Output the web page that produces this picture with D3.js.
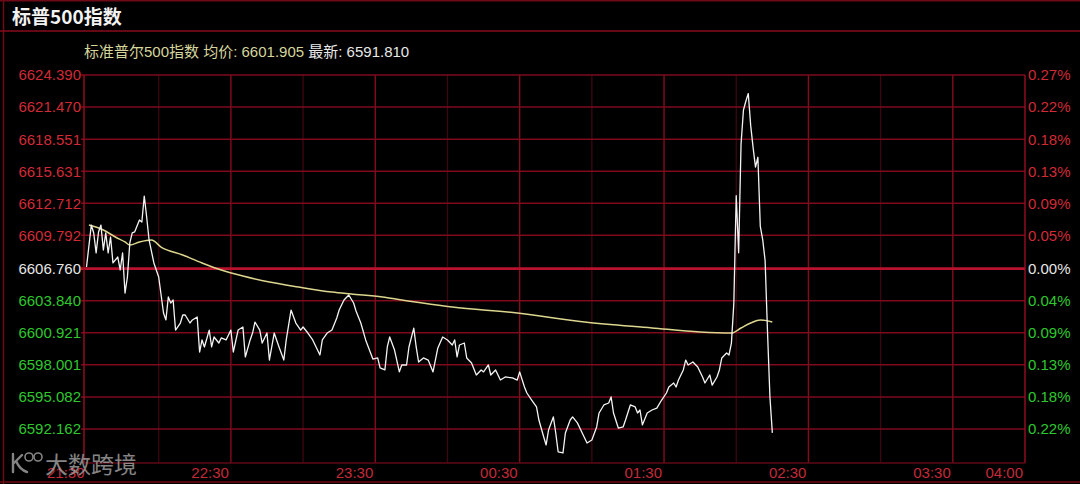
<!DOCTYPE html>
<html><head><meta charset="utf-8">
<script src="https://cdn.jsdelivr.net/npm/d3@7"></script>
<style>html,body{margin:0;padding:0;background:#000;overflow:hidden}</style>
</head><body><svg id="c" width="1080" height="484"></svg>
<script>
// ---------- data ----------
const titleText = "标普500指数";
const seriesName = "标准普尔500指数";
const avgLabel = "均价: 6601.905";
const lastLabel = "最新: 6591.810";
const watermarkText = "大数跨境";
const prevClose = 6606.760;

const timeTickMinutes = [0, 60, 120, 180, 240, 300, 360, 390];
const timeTickLabels = ["21:30", "22:30", "23:30", "00:30", "01:30", "02:30", "03:30", "04:00"];
const halfHourMinutes = [30, 90, 150, 210, 270, 330];

const priceTicks = [6624.390, 6621.470, 6618.551, 6615.631, 6612.712, 6609.792, 6606.760, 6603.840, 6600.921, 6598.001, 6595.082, 6592.162];
const pctLabels = ["0.27%", "0.22%", "0.18%", "0.13%", "0.09%", "0.05%", "0.00%", "0.04%", "0.09%", "0.13%", "0.18%", "0.22%"];

// minutes after 21:30
const minutes = [0,2,3,4,5,6,7,8,9,10,11,13,14,15,16,17,18,19,20,22,23,24,25,26,28,30,32,33,34,35,36,37,39,40,41,43,44,46,47,48,49,51,52,53,55,56,58,60,61,63,65,66,68,69,70,72,73,75,76,78,80,82,83,85,87,89,90,92,94,97,98,100,102,104,105,107,109,111,112,114,116,119,121,122,124,125,126,128,130,131,133,134,136,137,138,140,142,144,146,148,150,152,153,154,155,157,158,160,162,164,165,167,168,170,172,174,177,179,180,182,183,185,187,188,190,191,192,194,195,196,198,199,201,202,204,206,208,210,212,213,215,217,218,219,221,223,224,226,228,229,230,231,233,235,237,239,241,242,244,245,246,248,249,250,252,254,256,257,259,260,262,263,264,266,267,268,269,270,271,272,273,274,275,276,277,278,279,280,281,282,283,284,285];
const prices = [6606.91,6610.73,6610.01,6608.19,6610.10,6610.73,6608.46,6610.01,6608.19,6609.64,6607.28,6607.82,6606.64,6608.19,6604.54,6606.00,6609.10,6610.01,6610.10,6611.19,6611.01,6613.37,6611.46,6609.37,6607.28,6606.00,6602.72,6602.09,6604.18,6603.63,6603.91,6601.17,6601.81,6602.54,6602.54,6601.81,6602.09,6602.36,6599.17,6600.27,6599.63,6601.17,6599.63,6600.54,6599.99,6600.45,6600.27,6601.17,6599.17,6601.17,6601.45,6598.72,6600.27,6600.90,6601.90,6601.17,6599.99,6600.90,6598.44,6600.90,6599.63,6598.44,6600.27,6602.99,6601.81,6601.17,6601.45,6600.90,6600.27,6598.90,6600.27,6600.90,6601.17,6602.27,6602.99,6603.91,6604.36,6603.63,6602.90,6601.81,6600.27,6598.53,6598.63,6597.72,6597.54,6599.63,6600.54,6599.35,6597.36,6597.99,6597.99,6599.63,6601.35,6599.63,6598.26,6598.63,6598.44,6597.36,6599.54,6600.54,6600.27,6599.81,6600.27,6598.72,6599.81,6599.99,6598.63,6598.17,6597.08,6597.54,6597.36,6597.99,6597.08,6597.54,6596.62,6596.90,6596.81,6596.62,6597.36,6595.99,6595.44,6594.80,6594.17,6592.98,6591.43,6590.71,6592.07,6593.26,6591.80,6590.07,6589.98,6591.80,6592.98,6593.26,6592.72,6591.80,6590.89,6591.16,6592.35,6593.62,6594.35,6594.53,6595.08,6593.62,6592.25,6592.35,6592.98,6594.35,6594.17,6593.62,6593.89,6592.53,6593.62,6593.89,6594.07,6594.80,6595.44,6595.99,6596.35,6595.99,6596.62,6597.54,6598.44,6597.99,6598.26,6597.81,6596.90,6596.35,6597.08,6596.16,6596.90,6597.54,6598.63,6599.08,6598.90,6599.99,6603.60,6613.40,6608.20,6618.10,6621.20,6622.00,6622.70,6619.80,6617.80,6616.00,6616.90,6610.60,6609.40,6607.50,6601.00,6595.10,6591.81];

const avgMinutes = [1,7,12,16,18,22,27,31,40,48,56,65,76,88,102,110,123,131,152,179,207,235,255,268,272,276,280,285];
const avgPrices = [6610.73,6610.28,6609.64,6609.19,6608.91,6609.19,6609.37,6608.73,6608.00,6607.28,6606.64,6606.09,6605.54,6605.09,6604.63,6604.45,6604.18,6603.91,6603.27,6602.72,6601.90,6601.36,6600.99,6600.90,6601.36,6601.81,6602.09,6601.91];

// ---------- drawing ----------
const svg = d3.select("#c");
svg.append("rect").attr("width", 1080).attr("height", 484).attr("fill", "#000");

const pLeft = 84, pRight = 1025, pTop = 75, pBottom = 463;
const x = d3.scaleLinear().domain([0, 390]).range([86.5, pRight]);
const y = d3.scaleLinear().domain([6624.390, 6592.162]).range([pTop, 429]);

const labelFont = "'Liberation Sans', Arial, sans-serif";
const cjkFont = "'Liberation Sans', Arial, 'Noto Sans CJK SC', sans-serif";
const RED = "#d22a35", GREEN = "#2ec82e", WHITE = "#e6e6e6";

// outer frame
const frame = svg.append("g").attr("stroke", "#6e0a16").attr("stroke-width", 1.5).attr("fill", "none");
frame.append("line").attr("x1", 0).attr("x2", 1080).attr("y1", 0.75).attr("y2", 0.75);
frame.append("line").attr("x1", 3.5).attr("x2", 3.5).attr("y1", 0).attr("y2", 484);
frame.append("line").attr("x1", 0).attr("x2", 1080).attr("y1", 31).attr("y2", 31).attr("stroke", "#8a0c1c");
frame.append("line").attr("x1", 0).attr("x2", 1080).attr("y1", 482).attr("y2", 482);

// title
svg.append("text").attr("x", 12).attr("y", 24).attr("fill", "#f2f2f2")
  .attr("font-family", "'Noto Sans CJK SC', sans-serif").attr("font-weight", "bold").attr("font-size", 19)
  .text(titleText);

// subtitle
const sub = svg.append("text").attr("x", 84).attr("y", 57).attr("font-family", cjkFont).attr("font-size", 15);
sub.append("tspan").attr("fill", "#d6d69c").text(seriesName + " " + avgLabel + " ");
sub.append("tspan").attr("fill", "#e8e8e8").text(lastLabel);

// grid: half-hour verticals (faint)
svg.append("g").selectAll("line").data(halfHourMinutes).join("line")
  .attr("x1", d => x(d)).attr("x2", d => x(d)).attr("y1", pTop).attr("y2", pBottom)
  .attr("stroke", "#3c0710").attr("stroke-width", 1.3);
// hourly verticals
svg.append("g").selectAll("line").data(timeTickMinutes.slice(1, -1)).join("line")
  .attr("x1", d => x(d)).attr("x2", d => x(d)).attr("y1", pTop).attr("y2", pBottom)
  .attr("stroke", "#850c1e").attr("stroke-width", 1.4);

// horizontal grid
svg.append("g").selectAll("line").data(priceTicks).join("line")
  .attr("x1", pLeft - 3).attr("x2", pRight).attr("y1", d => y(d)).attr("y2", d => y(d))
  .attr("stroke", d => d === prevClose ? "#b8122c" : "#7e0b1c")
  .attr("stroke-width", d => d === prevClose ? 2.6 : 1.5);

// borders
const border = svg.append("g").attr("stroke", "#9a0e24").attr("stroke-width", 1.4);
border.append("line").attr("x1", pLeft).attr("x2", pLeft).attr("y1", pTop).attr("y2", pBottom);
border.append("line").attr("x1", pRight).attr("x2", pRight).attr("y1", pTop).attr("y2", pBottom);
border.append("line").attr("x1", pLeft).attr("x2", pRight).attr("y1", pBottom).attr("y2", pBottom).attr("stroke", "#5e0a16");

// left axis labels
svg.append("g").selectAll("text").data(priceTicks).join("text")
  .attr("x", 81).attr("y", d => y(d)).attr("dy", "0.36em").attr("text-anchor", "end")
  .attr("font-family", labelFont).attr("font-size", 15)
  .attr("fill", d => d > prevClose ? RED : d < prevClose ? GREEN : WHITE)
  .text(d => d.toFixed(3));

// right axis labels
svg.append("g").selectAll("text").data(priceTicks).join("text")
  .attr("x", 1028).attr("y", d => y(d)).attr("dy", "0.36em").attr("text-anchor", "start")
  .attr("font-family", labelFont).attr("font-size", 15)
  .attr("fill", d => d > prevClose ? RED : d < prevClose ? GREEN : WHITE)
  .text((d, i) => pctLabels[i]);

// bottom time labels
svg.append("g").selectAll("text").data(timeTickMinutes).join("text")
  .attr("x", d => x(d) - 2).attr("y", 478).attr("text-anchor", "end")
  .attr("font-family", labelFont).attr("font-size", 15).attr("fill", "#c42a38")
  .text((d, i) => timeTickLabels[i]);

// average line
const avgData = avgMinutes.map((m, i) => [m, avgPrices[i]]);
svg.append("path").datum(avgData)
  .attr("d", d3.line().x(d => x(d[0])).y(d => y(d[1])).curve(d3.curveMonotoneX))
  .attr("fill", "none").attr("stroke", "#dcd68e").attr("stroke-width", 1.5);

// price line
const priceData = minutes.map((m, i) => [m, prices[i]]);
svg.append("path").datum(priceData)
  .attr("d", d3.line().x(d => x(d[0])).y(d => y(d[1])))
  .attr("fill", "none").attr("stroke", "#f4f4f4").attr("stroke-width", 1.3).attr("stroke-linejoin", "round");

// watermark (logo drawn as shapes, name as text)
const wm = svg.append("g").attr("opacity", 0.8);
const wmc = "#a6a6a6";
wm.append("path").attr("d", "M13,454 L13,472 M13,464 L22,455 M16,461 Q20,470 27,472")
  .attr("fill", "none").attr("stroke", wmc).attr("stroke-width", 2.4).attr("stroke-linecap", "round");
wm.append("circle").attr("cx", 29).attr("cy", 457).attr("r", 4).attr("fill", "none").attr("stroke", wmc).attr("stroke-width", 1.6);
wm.append("circle").attr("cx", 38).attr("cy", 457).attr("r", 4).attr("fill", "none").attr("stroke", wmc).attr("stroke-width", 1.6);
wm.append("text").attr("x", 45).attr("y", 473).attr("font-family", "'Noto Sans CJK SC', sans-serif").attr("font-size", 23)
  .attr("fill", wmc).text(watermarkText);
</script></body></html>
